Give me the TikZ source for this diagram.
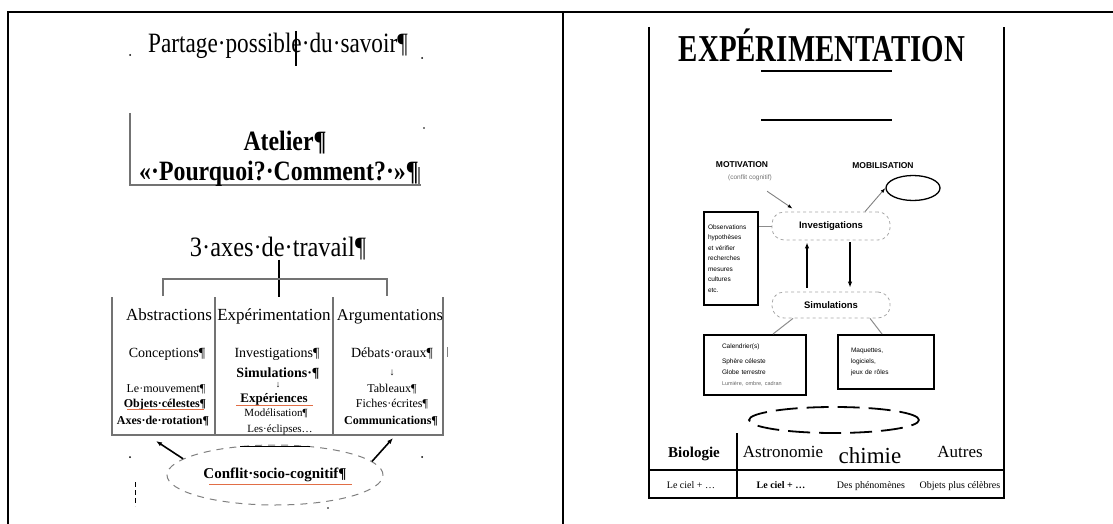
\documentclass[tikz,border=0pt]{standalone}
\usepackage{fontspec}
\setmainfont{Liberation Serif}
\newfontfamily\labelsf{Liberation Sans}
\usetikzlibrary{arrows.meta,shapes.geometric}
\newcommand{\narrowed}[2]{\scalebox{#1}[1]{#2}}
\newcommand{\setfs}[1]{\fontsize{#1}{#1}\selectfont}
\begin{document}
\begin{tikzpicture}[x=1pt,y=-1pt,
  txt/.style={inner sep=0pt,anchor=base},
  frame/.style={line width=2.6pt,black},
  greyline/.style={draw=black!55,line width=1.3pt},
  spell/.style={draw={rgb,255:red,225;green,110;blue,70},line width=0.8pt},
  blackbox/.style={draw,line width=2pt,rectangle,inner sep=0pt,align=left},
  bubble/.style={draw=black!35,dash pattern=on 3pt off 3pt,rounded corners=12pt,minimum width=118pt,line width=0.8pt,inner sep=0pt},
  darrow/.style={-{Latex[length=6pt,width=4.5pt]},line width=1.6pt},
  thinarrow/.style={draw=black!50,line width=0.9pt,-{Latex[length=5pt,width=3.5pt,color=black]}},
]
\useasboundingbox (0,0) rectangle (1113,524);

% outer frame and split
\draw[frame] (8,524) -- (8,12) -- (1113,12);
\draw[frame] (563,12) -- (563,524);

% ---------- left panel ----------
\node[txt,font=\setfs{28}] (partage) at (278,53) {\narrowed{0.83}{Partage·possible·du·savoir¶}};
\draw[line width=1.1pt] (296,31) -- (296,66);
\fill (130,55) circle (1pt);
\fill (422,58) circle (1pt);
\fill (424,128) circle (0.8pt);

\draw[greyline] (130,113) -- (130,185) -- (421,185);
\draw[greyline] (419,167) -- (419,185);
\node[txt,font=\bfseries\setfs{28}] (atelier) at (285,150) {\narrowed{0.85}{Atelier¶}};
\node[txt,font=\bfseries\setfs{28}] (question) at (279,180) {\narrowed{0.85}{«·Pourquoi?·Comment?·»¶}};

\node[txt,font=\setfs{28}] (axes) at (278,256) {\narrowed{0.87}{3·axes·de·travail¶}};
\coordinate (brL) at (163,296);
\coordinate (brR) at (387,296);
\coordinate (brC) at (279,297);
\coordinate (brJ) at (279,279);
\draw[line width=1.4pt] (axes.south -| brC) -- (brC);
\draw[greyline] (brL) |- (brJ) -| (brR);

% three columns
\draw[greyline] (112,297) -- (112,435) -- (443,435) -- (443,297);
\draw[greyline] (215,297) -- (215,435);
\draw[greyline] (333,297) -- (333,435);

\node[txt,font=\setfs{17}] (hAbs) at (169,320) {Abstractions};
\node[txt,font=\setfs{17}] (hExp) at (274,320) {Expérimentation};
\node[txt,font=\setfs{16.5}] (hArg) at (390,320) {Argumentations};

\node[txt,font=\setfs{14}] (a1) at (167,357) {Conceptions¶};
\node[txt,font=\setfs{12}] (a2) at (166,392) {Le·mouvement¶};
\node[txt,font=\bfseries\setfs{12}] (a3) at (165,407) {Objets·célestes¶};
\node[txt,font=\bfseries\setfs{12}] (a4) at (163,424) {Axes·de·rotation¶};
\draw[spell] (127,409.5) -- (204,409.5);

\node[txt,font=\setfs{14}] (e1) at (277,357) {Investigations¶};
\node[txt,font=\bfseries\setfs{14}] (e2) at (278,377) {Simulations·¶};
\node[txt,font=\setfs{9}] (e3) at (278,387) {↓};
\node[txt,font=\bfseries\setfs{13}] (e4) at (274,402) {Expériences};
\draw[spell] (236,405) -- (313,405);
\node[txt,font=\setfs{11}] (e5) at (276,416) {Modélisation¶};
\node[txt,font=\setfs{11}] (e6) at (280,432) {Les·éclipses…};

\node[txt,font=\setfs{14}] (g1) at (392,357) {Débats·oraux¶};
\node[txt,font=\setfs{10}] (g2) at (392,375) {↓};
\node[txt,font=\setfs{12}] (g3) at (392,392) {Tableaux¶};
\node[txt,font=\setfs{12}] (g4) at (392,407) {Fiches·écrites¶};
\node[txt,font=\bfseries\setfs{12}] (g5) at (391,424) {Communications¶};
\draw[black!50,line width=1pt] (447,347) -- (447,357);

\node[ellipse,draw=black!50,dash pattern=on 7pt off 6pt,line width=1pt,minimum width=216pt,minimum height=60pt,inner sep=0pt,font=\bfseries\setfs{15}] (conflit) at (275,475) {Conflit·socio-cognitif¶};
\draw[line width=1.1pt] (240,446.5) -- (310,446.5);
\draw[spell] (209,484) -- (352,484);
\coordinate (tipL) at (156,441);
\coordinate (tipR) at (393,438);
\draw[darrow] (conflit.170) -- (tipL);
\draw[darrow] (conflit.8) -- (tipR);

\fill (130,457) circle (1pt);
\fill (422,457) circle (1pt);
\draw[line width=1pt,dash pattern=on 5pt off 3pt] (135,482) -- (135,506);
\fill (328,508) circle (0.8pt);

% ---------- right panel ----------
\draw[line width=1.6pt] (649,27) -- (649,498) -- (1004,498) -- (1004,27);
\node[txt,font=\bfseries\setfs{38}] (titre) at (822,62) {\narrowed{0.76}{EXPÉRIMENTATION}};
\draw[line width=1.6pt] (761,71) -- (892,71);
\draw[line width=1.6pt] (761,120) -- (892,120);

\node[font=\labelsf\bfseries\setfs{8.5},inner sep=0pt] (motiv) at (742,165) {MOTIVATION};
\node[font=\labelsf\setfs{6.5},text=black!55,inner sep=0pt] (motivsub) at (750,178) {(conflit cognitif)};
\node[font=\labelsf\bfseries\setfs{8.5},inner sep=0pt] (mobil) at (883,166) {MOBILISATION};
\node[draw,ellipse,line width=1.3pt,minimum width=54pt,minimum height=25pt] (mob) at (913,188) {};

\node[bubble,minimum height=28pt,font=\labelsf\bfseries\setfs{9.5}] (inv) at (831,226) {Investigations};
\node[bubble,minimum height=26pt,font=\labelsf\bfseries\setfs{9.5}] (sim) at (831,305) {Simulations};

\node[blackbox,minimum width=54pt,minimum height=93pt,text width=46pt,font=\labelsf\fontsize{6.5}{10.5}\selectfont] (obs) at (731,258.5)
  {Observations\\hypothèses\\et vérifier\\recherches\\mesures\\cultures\\etc.};
\draw[black!45,line width=1pt] (obs.east |- inv.west) -- (inv.west);

\draw[thinarrow] ([xshift=-5pt,yshift=-10pt]motivsub.south east) -- ([xshift=21pt,yshift=3pt]inv.north west);
\draw[thinarrow] ([xshift=34pt]inv.north) -- (mob.west);

\draw[darrow,shorten <=4pt,shorten >=2pt] ([xshift=-24pt]sim.north) -- ([xshift=-24pt]inv.south);
\draw[darrow,shorten <=2pt,shorten >=4pt] ([xshift=19pt]inv.south) -- ([xshift=19pt]sim.north);

\node[blackbox,minimum width=102pt,minimum height=60pt,text width=66pt,font=\labelsf\fontsize{6.5}{11}\selectfont] (cal) at (755,365)
  {Calendrier(s)\\[4pt]Sphère céleste\\Globe terrestre\\{\color{black!60}\fontsize{5.5}{9}\selectfont Lumière, ombre, cadran}};
\node[blackbox,minimum width=96pt,minimum height=54pt,text width=70pt,font=\labelsf\fontsize{6.5}{11}\selectfont] (mod) at (886,362)
  {Maquettes,\\logiciels,\\jeux de rôles};
\draw[black!45,line width=1pt] ([xshift=-38pt]sim.south) -- ([xshift=18pt]cal.north);
\draw[black!45,line width=1pt] ([xshift=39pt]sim.south) -- ([xshift=-4pt]mod.north);

\node[draw,ellipse,line width=1.8pt,dash pattern=on 22pt off 9pt,minimum width=170pt,minimum height=26pt] (grp) at (834,420) {};

% disciplines table
\draw[line width=1.5pt] (737,433) -- (737,498);
\draw[line width=1.5pt] (649,470) -- (1004,470);
\node[txt,font=\bfseries\setfs{15}] (bio) at (694,457) {Biologie};
\node[txt,font=\setfs{17}] (astro) at (783,457) {Astronomie};
\node[txt,font=\setfs{23}] (chim) at (870,463) {chimie};
\node[txt,font=\setfs{17}] (autres) at (960,457) {Autres};
\node[txt,font=\setfs{10}] (r1) at (691,488) {Le ciel + …};
\node[txt,font=\bfseries\setfs{10}] (r2) at (781,488) {Le ciel + …};
\node[txt,font=\setfs{10}] (r3) at (871,488) {Des phénomènes};
\node[txt,font=\setfs{10}] (r4) at (960,488) {Objets plus célèbres};
\end{tikzpicture}
\end{document}
